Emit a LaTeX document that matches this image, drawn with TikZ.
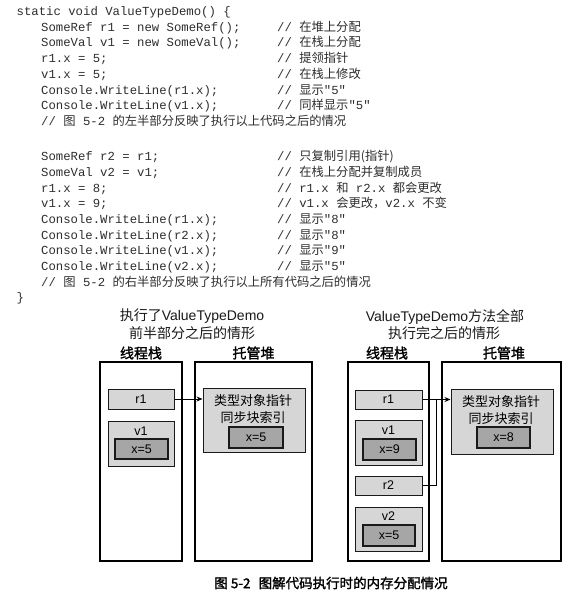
\documentclass[tikz,border=0pt]{standalone}
\usepackage{fontspec}
\setmainfont{Liberation Sans}
\setmonofont{Liberation Mono}
\newfontfamily\cjk{Noto Sans CJK SC}
\newfontfamily\cjkb[FakeBold=1.6]{Noto Sans CJK SC}
\usetikzlibrary{arrows.meta}
\newcommand\zh[1]{{\cjk #1}}
\definecolor{codegray}{HTML}{2E2E2E}
\definecolor{lightg}{HTML}{D6D6D6}
\definecolor{darkg}{HTML}{A6A6A6}
\definecolor{edgeg}{HTML}{1A1A1A}
\tikzset{
  codeline/.style={anchor=base west, inner sep=0pt, font=\fontsize{12.3}{14}\selectfont\ttfamily, text=codegray},
  area/.style={draw=black, line width=1.2pt, fill=white, inner sep=0pt},
  cell/.style={draw=edgeg, line width=1pt, fill=lightg, inner sep=0pt, font=\fontsize{12.5}{14}\selectfont},
  valbox/.style={draw=edgeg, line width=1.5pt, fill=darkg, inner sep=0pt, font=\fontsize{12.5}{14}\selectfont},
  celltxt/.style={inner sep=0pt, font=\fontsize{12.5}{14}\selectfont},
  objtxt/.style={inner sep=0pt, font=\fontsize{13}{15}\selectfont\cjk},
  title/.style={inner sep=0pt, font=\fontsize{14}{16}\selectfont, text=black!90},
  areatitle/.style={inner sep=0pt, font=\fontsize{14}{16}\selectfont\cjkb},
  caption/.style={inner sep=0pt, font=\fontsize{13.5}{16}\selectfont\cjkb},
  conn/.style={line width=1pt, draw=black, -{Stealth[length=6pt,width=5pt]}},
  plainconn/.style={line width=1pt, draw=black},
}
\begin{document}
\begin{tikzpicture}[x=1pt,y=-1pt]
\fill[white] (0,0) rectangle (576,599);
\useasboundingbox (0,0) rectangle (576,599);

% ---------- code ----------
\node[codeline] (c0) at (16.5,15.5) {static void ValueTypeDemo() \{};
\node[codeline] (c1) at (41,31.3) {SomeRef r1 = new SomeRef();};
\node[codeline] (c2) at (41,47) {SomeVal v1 = new SomeVal();};
\node[codeline] (c3) at (41,62.8) {r1.x = 5;};
\node[codeline] (c4) at (41,78.5) {v1.x = 5;};
\node[codeline] (c5) at (41,94.3) {Console.WriteLine(r1.x);};
\node[codeline] (c6) at (41,110) {Console.WriteLine(v1.x);};
\node[codeline] (c7) at (41,125.8) {// \zh{图} 5-2 \zh{的左半部分反映了执行以上代码之后的情况}};

\node[codeline] (k1) at (277,31.3) {// \zh{在堆上分配}};
\node[codeline] (k2) at (277,47) {// \zh{在栈上分配}};
\node[codeline] (k3) at (277,62.8) {// \zh{提领指针}};
\node[codeline] (k4) at (277,78.5) {// \zh{在栈上修改}};
\node[codeline] (k5) at (277,94.3) {// \zh{显示}"5"};
\node[codeline] (k6) at (277,110) {// \zh{同样显示}"5"};

\node[codeline] (d1) at (41,160.7) {SomeRef r2 = r1;};
\node[codeline] (d2) at (41,176.4) {SomeVal v2 = v1;};
\node[codeline] (d3) at (41,192) {r1.x = 8;};
\node[codeline] (d4) at (41,207.7) {v1.x = 9;};
\node[codeline] (d5) at (41,223.4) {Console.WriteLine(r1.x);};
\node[codeline] (d6) at (41,239) {Console.WriteLine(r2.x);};
\node[codeline] (d7) at (41,254.7) {Console.WriteLine(v1.x);};
\node[codeline] (d8) at (41,270.4) {Console.WriteLine(v2.x);};
\node[codeline] (d9) at (41,286) {// \zh{图} 5-2 \zh{的右半部分反映了执行以上所有代码之后的情况}};
\node[codeline] (d10) at (16.5,301.7) {\}};

\node[codeline] (m1) at (277,160.7) {// \zh{只复制引用(指针)}};
\node[codeline] (m2) at (277,176.4) {// \zh{在栈上分配并复制成员}};
\node[codeline] (m3) at (277,192) {// r1.x \zh{和} r2.x \zh{都会更改}};
\node[codeline] (m4) at (277,207.7) {// v1.x \zh{会更改，}v2.x \zh{不变}};
\node[codeline] (m5) at (277,223.4) {// \zh{显示}"8"};
\node[codeline] (m6) at (277,239) {// \zh{显示}"8"};
\node[codeline] (m7) at (277,254.7) {// \zh{显示}"9"};
\node[codeline] (m8) at (277,270.4) {// \zh{显示}"5"};

% ---------- left diagram ----------
\node[title] (tL1) at (192,316) {\zh{执行了}ValueTypeDemo};
\node[title] (tL2) at (192,333) {\zh{前半部分之后的情形}};
\node[areatitle] (sLt) at (141,353) {线程栈};
\node[areatitle] (hLt) at (253.5,353) {托管堆};

\node[area, minimum width=82pt, minimum height=199pt] (stackL) at (141,461.5) {};
\node[area, minimum width=117pt, minimum height=199pt] (heapL) at (253.5,461.5) {};

\node[cell, minimum width=66pt, minimum height=20pt] (r1L) at (141,399) {r1};
\node[cell, minimum width=66pt, minimum height=45pt] (v1L) at (141,443.5) {};
\node[celltxt] (v1Llab) at (141,431) {v1};
\node[valbox, minimum width=53pt, minimum height=20pt] (x5L) at (141.5,449) {x=5};

\node[cell, minimum width=102pt, minimum height=64pt] (objL) at (254,420) {};
\node[objtxt] (objL1) at (253,401) {类型对象指针};
\node[objtxt] (objL2) at (253,418) {同步块索引};
\node[valbox, minimum width=54pt, minimum height=21pt] (xoL) at (256,437.5) {x=5};

\draw[conn] (r1L.east) -- (r1L.east -| objL.west);

% ---------- right diagram ----------
\node[title] (tR1) at (445,317) {ValueTypeDemo\zh{方法全部}};
\node[title] (tR2) at (444,333) {\zh{执行完之后的情形}};
\node[areatitle] (sRt) at (387,353) {线程栈};
\node[areatitle] (hRt) at (504,353) {托管堆};

\node[area, minimum width=81pt, minimum height=199pt] (stackR) at (388.5,461.5) {};
\node[area, minimum width=119pt, minimum height=199pt] (heapR) at (501.5,461.5) {};

\node[cell, minimum width=67pt, minimum height=19pt] (r1R) at (388.5,399.5) {r1};
\node[cell, minimum width=67pt, minimum height=45pt] (v1R) at (388.5,442.5) {};
\node[celltxt] (v1Rlab) at (388.5,430) {v1};
\node[valbox, minimum width=53pt, minimum height=21pt] (x9R) at (389.5,449.5) {x=9};
\node[cell, minimum width=67pt, minimum height=19pt] (r2R) at (388.5,485.5) {r2};
\node[cell, minimum width=67pt, minimum height=44pt] (v2R) at (388.5,529) {};
\node[celltxt] (v2Rlab) at (388.5,516) {v2};
\node[valbox, minimum width=52pt, minimum height=21pt] (x5R) at (389,535.5) {x=5};

\node[cell, minimum width=102pt, minimum height=65pt] (objR) at (502,421.5) {};
\node[objtxt] (objR1) at (501,402) {类型对象指针};
\node[objtxt] (objR2) at (501,419) {同步块索引};
\node[valbox, minimum width=53pt, minimum height=21pt] (xoR) at (503.5,437.5) {x=8};

\coordinate (jR) at (436,399.5);
\draw[conn] (r1R.east) -- (r1R.east -| objR.west);
\draw[plainconn] (r2R.east) -| (jR);

% ---------- caption ----------
\node[caption] (cap) at (331,583) {图 5-2\hspace{0.6em}图解代码执行时的内存分配情况};
\end{tikzpicture}
\end{document}
